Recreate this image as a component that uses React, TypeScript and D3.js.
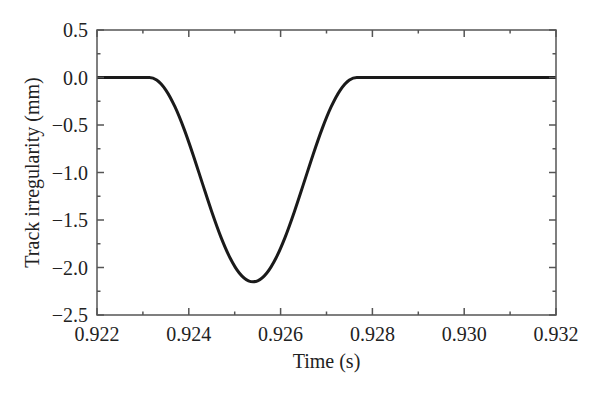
import React from "react";
import * as d3 from "d3";

const times = [
  0.922, 0.92314, 0.9233, 0.9235, 0.9237, 0.9239, 0.9241, 0.9243, 0.9245, 0.9247,
  0.9249, 0.9251, 0.9253, 0.9254, 0.9255, 0.9257, 0.9259, 0.9261, 0.9263, 0.9265,
  0.9267, 0.9269, 0.9271, 0.9273, 0.9275, 0.92766, 0.932,
];
const irregularity = [
  0, 0, -0.026, -0.132, -0.31, -0.546, -0.823, -1.12, -1.413, -1.68,
  -1.9, -2.058, -2.14, -2.15, -2.14, -2.058, -1.9, -1.68, -1.413, -1.12,
  -0.823, -0.546, -0.31, -0.132, -0.026, 0, 0,
];
const xMajorTicks = [0.922, 0.924, 0.926, 0.928, 0.93, 0.932];
const xMinorTicks = [0.923, 0.925, 0.927, 0.929, 0.931];
const yMajorTicks = [0.5, 0, -0.5, -1.0, -1.5, -2.0, -2.5];
const yMinorTicks = [0.25, -0.25, -0.75, -1.25, -1.75, -2.25];

const W = 600, H = 395;
const L = 97, R = 556, T = 30, B = 315;
const FONT = "'Liberation Serif', 'DejaVu Serif', serif";

export default function App() {
  const x = d3.scaleLinear().domain([0.922, 0.932]).range([L, R]);
  const y = d3.scaleLinear().domain([-2.5, 0.5]).range([B, T]);
  const data = times.map((t, i) => [t, irregularity[i]] as [number, number]);
  const line = d3.line<[number, number]>().x(d => x(d[0])).y(d => y(d[1])).curve(d3.curveMonotoneX);
  const axisColor = "#555";
  const maj = 7, min = 3.5;
  const fmtX = d3.format(".3f");
  const fmtY = (v: number) => (v < 0 ? "\u2212" : "") + Math.abs(v).toFixed(1);
  return (
    <svg width={W} height={H} style={{ display: "block", position: "absolute", left: 0, top: 0 }}>
      <rect width={W} height={H} fill="#fff" />
      <path d={line(data) || ""} fill="none" stroke="#1a1a1a" strokeWidth={3} strokeLinejoin="round" />
      <rect x={L} y={T} width={R - L} height={B - T} fill="none" stroke={axisColor} strokeWidth={1.5} />
      {xMajorTicks.map(v => (
        <g key={"xM" + v}>
          <line x1={x(v)} x2={x(v)} y1={B} y2={B - maj} stroke={axisColor} strokeWidth={1.5} />
          <line x1={x(v)} x2={x(v)} y1={T} y2={T + maj} stroke={axisColor} strokeWidth={1.5} />
          <text x={x(v)} y={341} textAnchor="middle" fontFamily={FONT} fontSize={20} fill="#222">{fmtX(v)}</text>
        </g>
      ))}
      {xMinorTicks.map(v => (
        <g key={"xm" + v}>
          <line x1={x(v)} x2={x(v)} y1={B} y2={B - min} stroke={axisColor} strokeWidth={1.5} />
          <line x1={x(v)} x2={x(v)} y1={T} y2={T + min} stroke={axisColor} strokeWidth={1.5} />
        </g>
      ))}
      {yMajorTicks.map(v => (
        <g key={"yM" + v}>
          <line x1={L} x2={L + maj} y1={y(v)} y2={y(v)} stroke={axisColor} strokeWidth={1.5} />
          <line x1={R} x2={R - maj} y1={y(v)} y2={y(v)} stroke={axisColor} strokeWidth={1.5} />
          <text x={88} y={y(v)} dy="0.35em" textAnchor="end" fontFamily={FONT} fontSize={20} fill="#222">{fmtY(v)}</text>
        </g>
      ))}
      {yMinorTicks.map(v => (
        <g key={"ym" + v}>
          <line x1={L} x2={L + min} y1={y(v)} y2={y(v)} stroke={axisColor} strokeWidth={1.5} />
          <line x1={R} x2={R - min} y1={y(v)} y2={y(v)} stroke={axisColor} strokeWidth={1.5} />
        </g>
      ))}
      <text x={(L + R) / 2} y={368} textAnchor="middle" fontFamily={FONT} fontSize={20} fill="#222">Time (s)</text>
      <text transform={`translate(39, ${(T + B) / 2}) rotate(-90)`} textAnchor="middle" fontFamily={FONT} fontSize={20} fill="#222">Track irregularity (mm)</text>
    </svg>
  );
}
